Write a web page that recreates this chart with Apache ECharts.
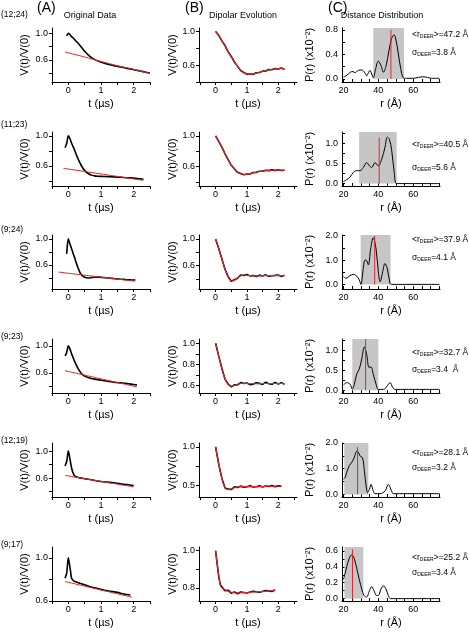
<!DOCTYPE html>
<html><head><meta charset="utf-8">
<script src="https://cdn.jsdelivr.net/npm/echarts@6/dist/echarts.min.js"></script>
<style>html,body{margin:0;padding:0;background:#fff}#c{width:469px;height:634px}</style>
</head><body><div id="c"></div>
<script>
// ---------- labels ----------
const rowLabels = ['(12;24)', '(11;23)', '(9;24)', '(9;23)', '(12;19)', '(9;17)'];
const colHeads = ['(A)', '(B)', '(C)'];
const colTitles = ['Original Data', 'Dipolar Evolution', 'Distance Distribution'];
const rMean = ['47.2', '40.5', '37.9', '32.7', '28.1', '25.2'];
const rSigma = ['3.8', '5.6', '4.1', '3.4 ', '3.2', '3.4'];
const meanR = [47.2, 40.5, 37.9, 32.7, 28.1, 25.2];

// ---------- column A : original data ----------
const tA1 = [-0.05,0,0.05,0.1,0.15,0.2,0.3,0.4,0.5,0.6,0.7,0.8,0.9,1.0,1.1,1.2,1.3,1.4,1.5,1.6,1.7,1.8,1.9,2.0,2.1,2.2,2.3,2.4,2.5];
const vA1 = [0.96,1.0,0.98,0.95,0.93,0.90,0.85,0.79,0.73,0.68,0.64,0.61,0.587,0.567,0.553,0.538,0.527,0.514,0.506,0.494,0.487,0.474,0.467,0.455,0.447,0.434,0.426,0.413,0.405];
const fitTA1 = [-0.1,0.5,1.0,1.5,2.0,2.5];
const fitVA1 = [0.72,0.645,0.578,0.515,0.458,0.40];

const tA2 = [-0.1,-0.05,0,0.05,0.1,0.15,0.2,0.25,0.3,0.35,0.4,0.5,0.6,0.7,0.8,0.9,1.0,1.2,1.4,1.6,1.8,2.0,2.1,2.2,2.3];
const vA2 = [0.84,0.90,1.0,0.96,0.90,0.85,0.80,0.74,0.69,0.645,0.60,0.535,0.50,0.475,0.465,0.46,0.458,0.455,0.452,0.447,0.44,0.435,0.43,0.425,0.42];
const fitTA2 = [-0.15,2.3];
const fitVA2 = [0.566,0.405];

const tA3 = [-0.05,0,0.05,0.1,0.15,0.2,0.25,0.3,0.35,0.4,0.5,0.6,0.7,0.8,0.9,1.0,1.1,1.2,1.3,1.4,1.5,1.6,1.7,1.8,1.9,2.0,2.05];
const vA3 = [0.77,1.0,0.92,0.85,0.77,0.70,0.62,0.55,0.49,0.45,0.41,0.40,0.405,0.41,0.412,0.408,0.405,0.40,0.396,0.39,0.385,0.381,0.378,0.372,0.37,0.368,0.37];
const fitTA3 = [-0.3,2.05];
const fitVA3 = [0.49,0.35];

const tA4 = [-0.1,-0.05,0,0.05,0.1,0.15,0.2,0.3,0.4,0.5,0.6,0.7,0.8,1.0,1.2,1.4,1.6,1.8,2.0,2.1];
const vA4 = [0.85,0.90,1.0,0.95,0.88,0.82,0.76,0.66,0.59,0.55,0.53,0.515,0.505,0.49,0.475,0.46,0.45,0.44,0.425,0.42];
const fitTA4 = [-0.1,2.1];
const fitVA4 = [0.63,0.39];

const tA5 = [-0.1,-0.05,0,0.05,0.1,0.15,0.2,0.3,0.4,0.5,0.7,1.0,1.2,1.4,1.6,1.8,2.0];
const vA5 = [0.78,0.85,1.0,0.88,0.75,0.67,0.63,0.61,0.60,0.59,0.575,0.55,0.54,0.53,0.515,0.505,0.49];
const fitTA5 = [-0.1,2.0];
const fitVA5 = [0.64,0.47];

const tA6 = [-0.1,-0.05,0,0.03,0.07,0.1,0.15,0.2,0.3,0.4,0.5,0.7,0.9,1.1,1.3,1.5,1.7,1.9];
const vA6 = [0.81,0.86,1.0,0.95,0.87,0.81,0.79,0.78,0.77,0.76,0.75,0.73,0.715,0.70,0.69,0.68,0.665,0.655];
const fitTA6 = [-0.1,1.95];
const fitVA6 = [0.78,0.635];

// ---------- column B : dipolar evolution ----------
const tB = [0,0.1,0.2,0.3,0.4,0.5,0.6,0.7,0.8,0.9,1.0,1.1,1.2,1.3,1.4,1.5,1.6,1.7,1.8,1.9,2.0,2.1,2.2];
const fitB1 = [1.0,0.95,0.89,0.83,0.76,0.70,0.64,0.585,0.54,0.51,0.495,0.49,0.495,0.505,0.515,0.525,0.535,0.545,0.55,0.556,0.558,0.56,0.557];
const datB1 = [1.0,0.952,0.887,0.832,0.758,0.703,0.637,0.588,0.536,0.513,0.492,0.493,0.491,0.509,0.512,0.529,0.531,0.549,0.546,0.561,0.553,0.566,0.552];
const fitB2 = [1.0,0.93,0.85,0.77,0.69,0.62,0.57,0.53,0.51,0.50,0.503,0.51,0.52,0.53,0.538,0.545,0.55,0.553,0.555,0.556,0.556,0.555,0.553];
const datB2 = [1.0,0.928,0.853,0.768,0.692,0.618,0.573,0.527,0.513,0.497,0.506,0.507,0.524,0.527,0.542,0.541,0.554,0.549,0.559,0.552,0.560,0.551,0.557];
const fitB3 = [1.0,0.86,0.70,0.55,0.43,0.37,0.38,0.42,0.45,0.46,0.455,0.45,0.447,0.445,0.447,0.45,0.45,0.45,0.45,0.45,0.45,0.45,0.45];
const datB3 = [1.0,0.857,0.704,0.546,0.436,0.366,0.388,0.412,0.461,0.452,0.466,0.447,0.452,0.437,0.458,0.446,0.462,0.441,0.449,0.454,0.461,0.439,0.456];
const fitB4 = [1.0,0.88,0.76,0.665,0.61,0.595,0.60,0.612,0.62,0.622,0.62,0.618,0.617,0.617,0.618,0.62,0.62,0.62,0.62,0.62,0.62,0.62,0.62];
const datB4 = [1.0,0.878,0.764,0.661,0.615,0.588,0.607,0.606,0.628,0.619,0.624,0.609,0.614,0.627,0.621,0.611,0.633,0.617,0.612,0.629,0.616,0.626,0.613];
const fitB5 = [1.0,0.78,0.59,0.47,0.445,0.455,0.47,0.48,0.485,0.485,0.485,0.485,0.485,0.485,0.485,0.487,0.488,0.489,0.49,0.49,0.49,0.49];
const datB5 = [1.0,0.776,0.594,0.466,0.452,0.447,0.481,0.472,0.491,0.478,0.484,0.495,0.479,0.482,0.496,0.481,0.493,0.486,0.498,0.482,0.494,0.489];
const tB6 = [0,0.05,0.1,0.15,0.2,0.3,0.4,0.5,0.6,0.7,0.8,1.0,1.2,1.4,1.6,1.8,1.9];
const fitB6 = [1.0,0.93,0.865,0.815,0.80,0.79,0.782,0.777,0.774,0.773,0.774,0.776,0.778,0.78,0.782,0.785,0.787];
const datB6 = [1.0,0.93,0.862,0.818,0.806,0.785,0.788,0.772,0.779,0.769,0.778,0.773,0.782,0.777,0.786,0.781,0.790];

// ---------- column C : distance distribution ----------
const rC1 = [20,22,24,25.5,26.7,28,29.5,31,32.5,33.3,34.3,35.2,36.2,37.1,38.5,40,41.5,42.9,44.5,46,47.5,49,50.2,51.4,52.8,54.3,56,60,63,65.7,68,70.5,75];
const pC1 = [0.03,0.06,0.11,0.12,0.10,0.13,0.145,0.14,0.09,0.05,0.10,0.14,0.08,0.02,0.17,0.29,0.22,0.11,0.22,0.45,0.65,0.72,0.62,0.42,0.17,0.02,0.01,0.01,0.025,0.035,0.025,0.01,0.01];
const boxC1 = [37.1, 54.7];
const redTop1 = 0.8;

const rC2 = [20,21,22,23.8,25.7,27.6,29.5,31.4,33.3,34.9,36.2,38.1,40,41.9,43.8,45.1,46.3,47.6,49.1,50.5,55,75];
const pC2 = [0.05,0.07,0.10,0.16,0.28,0.32,0.32,0.40,0.52,0.44,0.40,0.52,0.44,0.60,0.90,1.15,1.10,0.84,0.28,0.0,0.0,0.0];
const boxC2 = [29, 50.5];
const redTop2 = 1.14;

const rC3 = [20,21.5,23.8,25.7,27.6,29.1,30,31.4,32.4,33.3,34.3,35.6,37.1,38.7,40,41,42.5,43.8,45.1,46.7,47.6,75];
const pC3 = [0.32,0.25,0.36,0.41,0.34,0.18,0.0,0.66,1.0,0.98,0.80,1.45,1.92,1.45,0.52,0.11,0.52,0.86,0.66,0.04,0.0,0.0];
const boxC3 = [29.9, 47];
const redTop3 = 2.0;

const rC4 = [20,21.9,23.8,25.1,26.3,27.6,29.1,30.5,32,33.3,34.7,35.8,37.1,38.7,40,42.9,45.1,46.7,48.2,49.5,75];
const pC4 = [0.13,0.19,0.15,0.03,0.15,0.40,0.53,0.78,1.08,0.9,0.57,0.58,0.40,0.15,0.02,0.02,0.11,0.19,0.07,0.02,0.02];
const boxC4 = [25.1, 40];
const redTop4 = 1.28;

const rC5 = [20,21,21.9,23.4,24.8,26.3,27.6,28.6,29.5,30.9,32,33,33.9,34.9,35.8,37.1,38.1,41,43.8,45.7,47.6,48.6,75];
const pC5 = [0.59,0.66,0.86,1.12,1.25,1.45,1.68,1.64,1.50,1.43,0.92,0.33,0.07,0.20,0.39,0.13,0.03,0.03,0.13,0.39,0.13,0.03,0.03];
const boxC5 = [20.5, 34.3];
const redTop5 = 1.84;

const rC6 = [20,21,21.9,23.4,24.8,26.1,27.6,29.1,30.5,31.8,33.3,34.9,36.2,37.5,39,40,41.5,42.9,44.4,45.7,47,75];
const pC6 = [0.24,0.32,0.40,0.51,0.55,0.51,0.385,0.24,0.12,0.04,0.02,0.10,0.15,0.10,0.04,0.04,0.12,0.16,0.12,0.04,0.0,0.0];
const boxC6 = [20.6, 31.4];
const redTop6 = 0.62;

// ---------- axis ticks/labels ----------
const xTicksAB = [-0.5,0,0.5,1,1.5,2,2.5];
const xLabelsAB = [0,1,2];
const xTicksC = [20,25,30,35,40,45,50,55,60,65,70,75];
const xLabelsC = [20,40,60];
const yLabA = [[0.6,1.0],[0.6,1.0],[0.6,1.0],[0.6,1.0],[0.6,1.0],[0.6,1.0]];
const yTickA = [[0.4,0.6,0.8,1.0],[0.4,0.6,0.8,1.0],[0.4,0.6,0.8,1.0],[0.4,0.6,0.8,1.0],[0.4,0.6,0.8,1.0],[0.6,0.8,1.0]];
const yLabB = [[0.6,1.0],[0.6,1.0],[0.6,1.0],[0.6,0.8,1.0],[0.5,1.0],[0.8,1.0]];
const yTickB = [[0.4,0.6,0.8,1.0],[0.4,0.6,0.8,1.0],[0.4,0.6,0.8,1.0],[0.6,0.7,0.8,0.9,1.0],[0.5,0.75,1.0],[0.8,0.9,1.0]];
const yLabC = [[0,0.4,0.8],[0,0.5,1.0],[0,1,2],[0,0.5,1.0],[0,1,2],[0,0.2,0.4,0.6]];
const yTickC = [[0,0.2,0.4,0.6,0.8],[0,0.25,0.5,0.75,1.0,1.25],[0,0.5,1,1.5,2],[0,0.25,0.5,0.75,1.0,1.25],[0,0.5,1,1.5,2],[0,0.1,0.2,0.3,0.4,0.5,0.6]];

// ---------- layout (not data) ----------
const colLeft = [52, 199, 342];
const plotW = 98, plotH = 54;
const axisY = [82, 186, 289, 393, 497, 601];
const rangeXA = [-0.5, 2.5], rangeXB = [-0.53, 2.6], rangeXC = [19.2, 75.3];
const rangeYA = [[0.27,1.08],[0.33,1.05],[0.23,1.06],[0.30,1.10],[0.32,1.12],[0.6,1.1]];
const rangeYB = [[0.4,1.04],[0.35,1.05],[0.25,1.06],[0.53,1.04],[0.35,1.05],[0.73,1.02]];
const rangeYC = [[-0.05,0.83],[-0.06,1.28],[-0.19,2.03],[-0.07,1.28],[-0.1,2.0],[-0.03,0.65]];
const rowLabelY = [15, 125, 230, 337, 441, 545];
const annRY = [35, 145, 240, 353, 453, 558];
const annSY = [53, 168, 258, 370, 468, 573];

const FONT = '"Liberation Sans", Arial, sans-serif';
const RED = '#e3262b';

const A = [[tA1,vA1,fitTA1,fitVA1],[tA2,vA2,fitTA2,fitVA2],[tA3,vA3,fitTA3,fitVA3],[tA4,vA4,fitTA4,fitVA4],[tA5,vA5,fitTA5,fitVA5],[tA6,vA6,fitTA6,fitVA6]];
const B = [[tB,datB1,fitB1],[tB,datB2,fitB2],[tB,datB3,fitB3],[tB,datB4,fitB4],[tB,datB5,fitB5],[tB6,datB6,fitB6]];
const C = [[rC1,pC1,boxC1,redTop1],[rC2,pC2,boxC2,redTop2],[rC3,pC3,boxC3,redTop3],[rC4,pC4,boxC4,redTop4],[rC5,pC5,boxC5,redTop5],[rC6,pC6,boxC6,redTop6]];

const zip = (x, y) => x.map((v, i) => [v, y[i]]);

const grids = [], xAxes = [], yAxes = [], series = [];
function addPanel(col, row, xr, xt, xl, yr, yt, yl, xname, yname, gapY, inside) {
  const idx = grids.length;
  grids.push({left: colLeft[col], top: axisY[row] - plotH, width: plotW, height: plotH});
  const lab = {fontSize: 9, fontFamily: FONT, color: '#000', margin: 4};
  xAxes.push({
    type: 'value', gridIndex: idx, min: xr[0], max: xr[1],
    axisLine: {show: true, onZero: false, lineStyle: {color: '#000', width: 1}},
    axisTick: {show: true, inside: inside, length: 3, customValues: xt, lineStyle: {color: '#000'}},
    axisLabel: Object.assign({customValues: xl, formatter: v => String(v)}, lab),
    splitLine: {show: false},
    name: xname, nameLocation: 'middle', nameGap: 16,
    nameTextStyle: {fontSize: 11, fontFamily: FONT, color: '#000'}
  });
  yAxes.push({
    type: 'value', gridIndex: idx, min: yr[0], max: yr[1],
    axisLine: {show: true, onZero: false, lineStyle: {color: '#000', width: 1}},
    axisTick: {show: true, inside: inside, length: 3, customValues: yt, lineStyle: {color: '#000'}},
    axisLabel: Object.assign({customValues: yl, formatter: v => v.toFixed(1)}, lab),
    splitLine: {show: false},
    name: yname, nameLocation: 'middle', nameGap: gapY, nameRotate: 90,
    nameTextStyle: {fontSize: 11, fontFamily: FONT, color: '#000'}
  });
  return idx;
}

for (let r = 0; r < 6; r++) {
  // A
  let i = addPanel(0, r, rangeXA, xTicksAB, xLabelsAB, rangeYA[r], yTickA[r], yLabA[r], 't (µs)', 'V(t)/V(0)', 22, false);
  series.push({type: 'line', xAxisIndex: i, yAxisIndex: i, data: zip(A[r][0], A[r][1]), showSymbol: false, smooth: 0.3,
    lineStyle: {color: '#000', width: 1.6}, z: 2});
  series.push({type: 'line', xAxisIndex: i, yAxisIndex: i, data: zip(A[r][2], A[r][3]), showSymbol: false, smooth: 0.3,
    lineStyle: {color: RED, width: 1}, z: 3});
  // B
  i = addPanel(1, r, rangeXB, xTicksAB, xLabelsAB, rangeYB[r], yTickB[r], yLabB[r], 't (µs)', 'V(t)/V(0)', 20, false);
  series.push({type: 'line', xAxisIndex: i, yAxisIndex: i, data: zip(B[r][0], B[r][1]), showSymbol: false,
    lineStyle: {color: '#000', width: 1.6}, z: 2});
  series.push({type: 'line', xAxisIndex: i, yAxisIndex: i, data: zip(B[r][0], B[r][2]), showSymbol: false, smooth: 0.3,
    lineStyle: {color: RED, width: 1.1}, z: 3});
  // C
  i = addPanel(2, r, rangeXC, xTicksC, xLabelsC, rangeYC[r], yTickC[r], yLabC[r], 'r (Å)', 'P(r) (x10⁻²)', 27, true);
  series.push({type: 'line', xAxisIndex: i, yAxisIndex: i, data: [], silent: true, z: 1,
    markArea: {silent: true, itemStyle: {color: '#c6c6c6'},
      data: [[{coord: [C[r][2][0], 0]}, {coord: [C[r][2][1], rangeYC[r][1]]}]]}});
  series.push({type: 'line', xAxisIndex: i, yAxisIndex: i, data: zip(C[r][0], C[r][1]), showSymbol: false, smooth: 0.35,
    lineStyle: {color: '#000', width: 1}, z: 3});
  series.push({type: 'line', xAxisIndex: i, yAxisIndex: i, data: [[meanR[r], 0], [meanR[r], C[r][3]]], showSymbol: false,
    lineStyle: {color: RED, width: 1}, z: 4});
}

const graphic = [];
const headX = [37, 185, 328];
const titleX = [90, 243, 382];
for (let c = 0; c < 3; c++) {
  graphic.push({type: 'text', left: headX[c], top: 1, style: {text: colHeads[c], font: '14px ' + FONT, fill: '#000'}});
  graphic.push({type: 'text', x: titleX[c], y: 16, style: {text: colTitles[c], font: '9px ' + FONT, fill: '#000', align: 'center', verticalAlign: 'middle'}});
}
for (let r = 0; r < 6; r++) {
  graphic.push({type: 'text', x: 1, y: rowLabelY[r], style: {text: rowLabels[r], font: '8.5px ' + FONT, fill: '#000', verticalAlign: 'middle'}});
  graphic.push({type: 'text', x: 412, y: annRY[r], style: {
    text: '{a|<r}{s|DEER}{a|>=' + rMean[r] + ' Å}', verticalAlign: 'middle', fill: '#000',
    rich: {a: {font: '8.5px ' + FONT, fill: '#000'}, s: {font: '5px ' + FONT, fill: '#000', padding: [4, 0, 0, 0]}}}});
  graphic.push({type: 'text', x: 412, y: annSY[r], style: {
    text: '{a|σ}{s|DEER}{a|=' + rSigma[r] + ' Å}', verticalAlign: 'middle', fill: '#000',
    rich: {a: {font: '8.5px ' + FONT, fill: '#000'}, s: {font: '5px ' + FONT, fill: '#000', padding: [4, 0, 0, 0]}}}});
}

const chart = echarts.init(document.getElementById('c'));
chart.setOption({animation: false, backgroundColor: '#fff', grid: grids, xAxis: xAxes, yAxis: yAxes, series: series, graphic: graphic});
</script></body></html>
